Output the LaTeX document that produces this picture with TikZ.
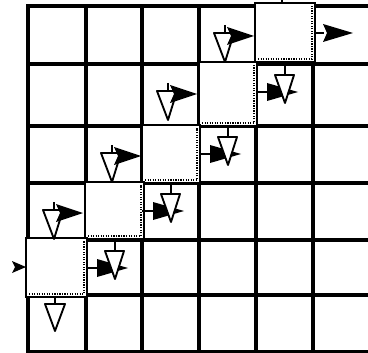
\documentclass[tikz,border=0pt]{standalone}
\usepackage{tikz}

\begin{document}
\begin{tikzpicture}[x=0.75pt, y=-0.75pt,
  gridline/.style={line width=2.3pt, line cap=rect},
  pebox/.style={line width=2pt, fill=white},
  peinner/.style={line width=0.9pt, densely dotted},
  glyph/.style={line width=1.4pt, line join=round},
  pics/cellfork/.style={code={
    \draw[glyph, fill=white] (15,27) -- (35,27) -- (26,56) -- cycle;
    \draw[glyph] (26,19) -- (26,27);
    \fill (28,21) -- (55,30) -- (28,39) -- (32,30) -- cycle;
  }},
  pics/celljoin/.style={code={
    \draw[glyph] (0,28) -- (11,28);
    \fill (11,19) -- (42,28) -- (11,37) -- cycle;
    \draw[glyph, fill=white] (19,11) -- (38,11) -- (29,39) -- cycle;
    \draw[glyph] (29,1) -- (29,11);
  }},
  pics/celldrop/.style={code={
    \draw[glyph] (27,1) -- (27,9);
    \draw[glyph] (17,9) -- (37,9) -- (27,36) -- cycle;
  }}]
  \useasboundingbox (0,0) rectangle (368,353);

  % Grid
  \foreach \gy in {6,64,126,183,240,295,352}
    \draw[gridline] (28,\gy) -- (368,\gy);
  \foreach \gx in {28,86,142,199,256,313}
    \draw[gridline] (\gx,6) -- (\gx,352);

  % Diagonal cells
  \foreach \xa/\ya/\xb/\yb in {255/3/315/62, 199/62/257/126, 142/125/200/183,
                               85/182/144/239, 26/238/87/297} {
    \draw[pebox] (\xa,\ya) rectangle (\xb,\yb);
    \draw[peinner] (\xa+3,\yb-3) -- (\xb-3,\yb-3) -- (\xb-3,\ya+3);
  }
  \draw[glyph] (282,0) -- (282,3);

  % Cell glyphs
  \foreach \cx/\cy in {199/6, 142/64, 86/126, 28/183}
    \pic at (\cx,\cy) {cellfork};
  \foreach \cx/\cy in {256/64, 199/126, 142/183, 86/240}
    \pic at (\cx,\cy) {celljoin};
  \pic at (28,295) {celldrop};

  % Input and output
  \fill (12,261) -- (26,267) -- (12,273) -- (15,267) -- cycle;
  \draw[glyph] (315,33) -- (324,33);
  \fill (323,24) -- (353,33) -- (323,42) -- (327,33) -- cycle;
\end{tikzpicture}
\end{document}
